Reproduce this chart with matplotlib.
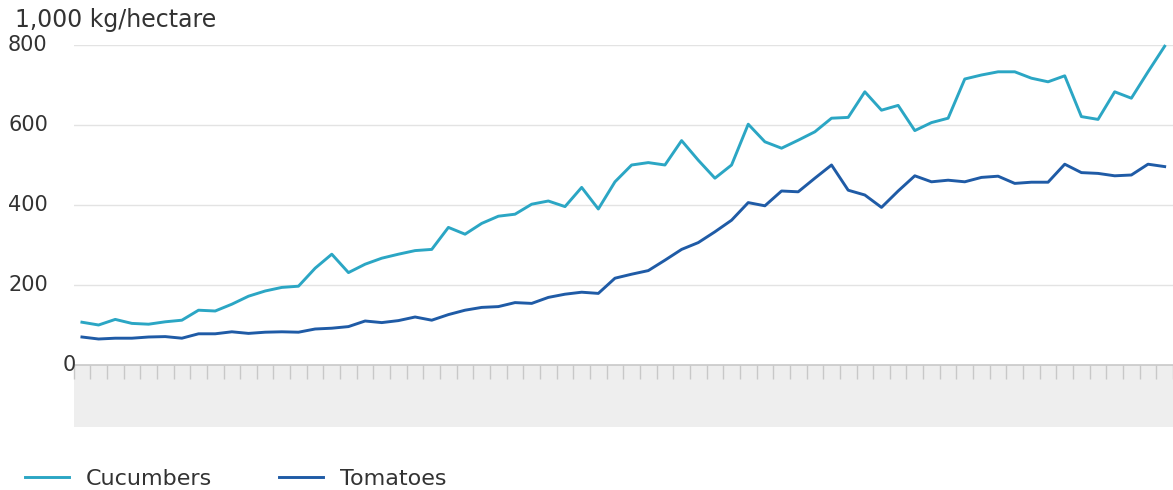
import numpy as np
import matplotlib
matplotlib.use("Agg")
import matplotlib.pyplot as plt
from matplotlib.patches import Rectangle
from matplotlib.lines import Line2D
import matplotlib.transforms as mtransforms

unit_label = "1,000 kg/hectare"
series_names = ["Cucumbers", "Tomatoes"]
y_ticks = [0, 200, 400, 600, 800]
y_tick_labels = ["0", "200", "400", "600", "800"]

cucumbers = [107, 100, 114, 104, 102, 108, 112, 137, 135, 152,
             172, 185, 194, 197, 242, 277, 231, 252, 267, 277,
             286, 289, 344, 327, 354, 372, 377, 402, 410, 396,
             444, 390, 458, 500, 506, 500, 561, 512, 467, 500,
             602, 558, 542, 562, 583, 617, 619, 683, 637, 649,
             586, 606, 617, 715, 725, 733, 733, 717, 708, 723,
             621, 614, 683, 667, 733, 797]
tomatoes = [70, 65, 67, 67, 70, 71, 67, 78, 78, 83,
            79, 82, 83, 82, 90, 92, 96, 110, 106, 111,
            120, 112, 126, 137, 144, 146, 156, 154, 169, 177,
            182, 179, 217, 227, 236, 262, 289, 306, 333, 362,
            406, 398, 435, 433, 467, 500, 437, 425, 394, 435,
            473, 458, 462, 458, 469, 472, 454, 457, 457, 502,
            481, 479, 473, 475, 502, 496]

colors = ["#2ba6c4", "#1f5ba6"]

W, H = 1173, 490
fig = plt.figure(figsize=(W / 100, H / 100), dpi=100)
fig.patch.set_facecolor("white")

ax_left, ax_right = 73.6, 1173
ax_bottom, ax_top = 365, 45
ax = fig.add_axes([ax_left / W, 1 - ax_bottom / H, (ax_right - ax_left) / W, (ax_bottom - ax_top) / H])
ax.set_facecolor("none")

n = len(cucumbers)
x = np.arange(n)
ax.set_xlim(-0.5, 65.06)
ax.set_ylim(0, 800)

# grey band under the axis
band_h = (427 - 365) / (ax_bottom - ax_top)
ax.add_patch(Rectangle((0, -band_h), 1, band_h, transform=ax.transAxes,
                       facecolor="#eeeeee", edgecolor="none", clip_on=False, zorder=0))

for yv in y_ticks[1:]:
    ax.axhline(yv, color="#e3e3e3", lw=1.0, zorder=1)

ax.plot(x, cucumbers, color=colors[0], lw=2.1, zorder=3, clip_on=False)
ax.plot(x, tomatoes, color=colors[1], lw=2.1, zorder=3, clip_on=False)

for s in ["top", "right", "left"]:
    ax.spines[s].set_visible(False)
ax.spines["bottom"].set_color("#c8c8c8")
ax.spines["bottom"].set_linewidth(1.2)
ax.set_xticks(np.arange(-0.5, n, 1))
ax.tick_params(axis="x", direction="out", length=10, width=1, color="#c8c8c8", labelbottom=False)
ax.set_yticks([])

# y tick labels
trans = mtransforms.blended_transform_factory(fig.transFigure, ax.transData)
for yv, lab in zip(y_ticks, y_tick_labels):
    px = 8 if yv != 0 else 63
    ax.text(px / W, yv, lab, transform=trans, ha="left", va="center",
            fontsize=15, color="#333333")

fig.text(15 / W, 1 - 20 / H, unit_label, ha="left", va="center", fontsize=17, color="#333333")

handles = [Line2D([], [], color=c, lw=2.1) for c in colors]
fig.legend(handles, series_names, loc="center left", bbox_to_anchor=(25 / W, 1 - 479 / H),
           ncol=2, frameon=False, fontsize=16, handlelength=2.0, handletextpad=0.75,
           columnspacing=3.0, borderpad=0, borderaxespad=0, labelcolor="#333333")

fig.savefig("out.png", dpi=100, facecolor="white")
